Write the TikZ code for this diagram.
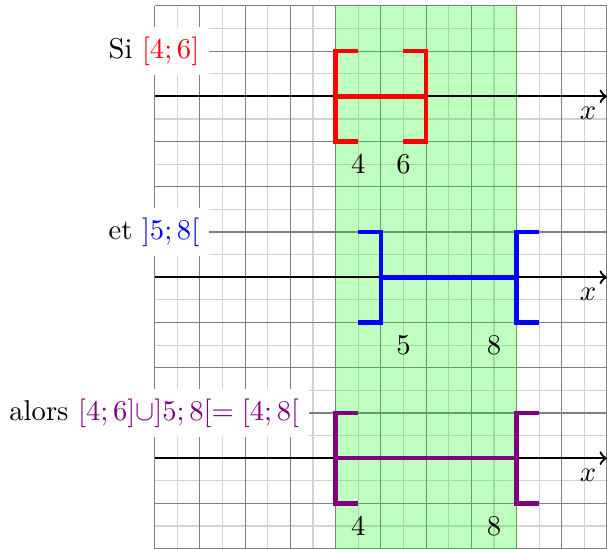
\documentclass[tikz,border=0pt]{standalone}
\usepackage{amsmath,amssymb}

\begin{document}
\begin{tikzpicture}[x=0.555cm,y=0.555cm,>=to]
\useasboundingbox (-3.42,-2) rectangle (10,10.13);
\draw[gray!35,line width=0.4pt] (0,-2) grid[step=0.5] (10,10);
\draw[gray,line width=0.4pt] (0,-2) grid[step=1] (10,10);
\fill[green,opacity=0.25] (4,-2) rectangle (8,10);
% les trois axes
\foreach \y/\n in {8/a,4/b,0/c} {
  \coordinate (o\n) at (0,\y);
  \coordinate (e\n) at (10,\y);
  \draw[->,thick] (o\n) -- (e\n) node[below left] (x\n) {$x$};
}
% Si [4;6]
\draw[red,ultra thick] (4.5,9) -- (4,9) -- (4,7) -- (4.5,7);
\draw[red,ultra thick] (5.5,9) -- (6,9) -- (6,7) -- (5.5,7);
\draw[red,ultra thick] (4,8) -- (6,8);
\node (la4) at (4.5,6.5) {$4$};
\node (la6) at (5.5,6.5) {$6$};
\node[left,fill=white] (si) at (1.21,9) {Si \textcolor{red}{$[4;6]$}};
% et ]5;8[
\draw[blue,ultra thick] (4.5,5) -- (5,5) -- (5,3) -- (4.5,3);
\draw[blue,ultra thick] (8.5,5) -- (8,5) -- (8,3) -- (8.5,3);
\draw[blue,ultra thick] (5,4) -- (8,4);
\node (lb5) at (5.5,2.5) {$5$};
\node (lb8) at (7.5,2.5) {$8$};
\node[left,fill=white] (et) at (1.21,5) {et \textcolor{blue}{$]5;8[$}};
% alors [4;8[
\draw[violet,ultra thick] (4.5,1) -- (4,1) -- (4,-1) -- (4.5,-1);
\draw[violet,ultra thick] (8.5,1) -- (8,1) -- (8,-1) -- (8.5,-1);
\draw[violet,ultra thick] (4,0) -- (8,0);
\node (lc4) at (4.5,-1.5) {$4$};
\node (lc8) at (7.5,-1.5) {$8$};
\node[left,fill=white] (alors) at (3.42,1) {alors \textcolor{violet}{$[4;6]\cup]5;8[=[4;8[$}};
\end{tikzpicture}
\end{document}
